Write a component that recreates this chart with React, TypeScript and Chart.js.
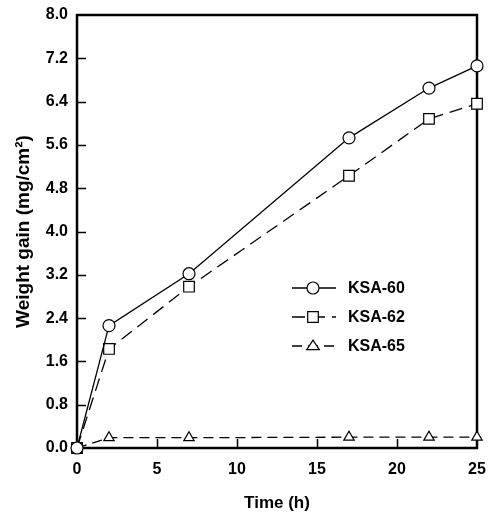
import React, { useEffect, useRef } from "react";
import { Chart, registerables } from "chart.js";

Chart.register(...registerables);

const timeHours = [0, 2, 7, 17, 22, 25];
const ksa60 = [0, 2.26, 3.22, 5.73, 6.65, 7.06];
const ksa62 = [0, 1.83, 2.98, 5.03, 6.08, 6.36];
const ksa65 = [0, 0.19, 0.19, 0.2, 0.2, 0.2];
const seriesNames = ["KSA-60", "KSA-62", "KSA-65"];
const xTickValues = [0, 5, 10, 15, 20, 25];
const yTickValues = [0, 0.8, 1.6, 2.4, 3.2, 4.0, 4.8, 5.6, 6.4, 7.2, 8.0];

const FONT = "'Liberation Sans', Arial, sans-serif";

function drawMarker(ctx: CanvasRenderingContext2D, style: string, x: number, y: number, r: number) {
  ctx.beginPath();
  if (style === "circle") {
    ctx.arc(x, y, r, 0, Math.PI * 2);
  } else if (style === "rect") {
    const s = r / Math.SQRT2;
    ctx.rect(x - s, y - s, 2 * s, 2 * s);
  } else {
    const h = r * 1.6;
    ctx.moveTo(x, y - h * 0.62);
    ctx.lineTo(x + r * 1.05, y + h * 0.38);
    ctx.lineTo(x - r * 1.05, y + h * 0.38);
    ctx.closePath();
  }
  ctx.fillStyle = "#fff";
  ctx.fill();
  ctx.setLineDash([]);
  ctx.stroke();
}

const framePlugin = {
  id: "frameTicks",
  beforeDatasetsDraw(chart: any) {
    const { ctx, chartArea } = chart;
    const { left, right, top, bottom } = chartArea;
    const xs = chart.scales.x;
    const ys = chart.scales.y;
    ctx.save();
    ctx.strokeStyle = "#000";
    ctx.lineWidth = 2.5;
    ctx.strokeRect(left, top, right - left, bottom - top);
    ctx.lineWidth = 1.5;
    ctx.beginPath();
    yTickValues.forEach((v) => {
      if (v <= 0 || v >= 8) return;
      const py = Math.round(ys.getPixelForValue(v)) + 0.5;
      ctx.moveTo(left, py);
      ctx.lineTo(left + 9, py);
    });
    xTickValues.forEach((v) => {
      if (v <= 0 || v >= 25) return;
      const px = Math.round(xs.getPixelForValue(v)) + 0.5;
      ctx.moveTo(px, bottom);
      ctx.lineTo(px, bottom - 9);
    });
    ctx.stroke();
    ctx.restore();
  },
  afterDraw(chart: any) {
    const { ctx } = chart;
    ctx.save();
    const rows = [288, 317, 346];
    chart.data.datasets.forEach((ds: any, i: number) => {
      const y = rows[i];
      ctx.strokeStyle = "#000";
      ctx.lineWidth = 1.3;
      ctx.setLineDash(ds.borderDash || []);
      ctx.beginPath();
      ctx.moveTo(292, y);
      ctx.lineTo(336, y);
      ctx.stroke();
      ctx.lineWidth = 1.2;
      drawMarker(ctx, ds.pointStyle, 313, y, ds.pointRadius);
      ctx.fillStyle = "#000";
      ctx.font = `bold 16px ${FONT}`;
      ctx.textBaseline = "middle";
      ctx.textAlign = "left";
      ctx.fillText(ds.label, 348, y + 1);
    });
    ctx.restore();
  },
};

export default function App() {
  const ref = useRef<HTMLCanvasElement | null>(null);
  useEffect(() => {
    if (!ref.current) return;
    const mk = (vals: number[]) => timeHours.map((t, i) => ({ x: t, y: vals[i] }));
    const common = {
      borderColor: "#000",
      backgroundColor: "#fff",
      pointBorderColor: "#000",
      pointBackgroundColor: "#fff",
      pointBorderWidth: 1.2,
      borderWidth: 1.3,
      clip: false as any,
      tension: 0,
    };
    const chart = new Chart(ref.current, {
      type: "line",
      data: {
        datasets: [
          { ...common, label: seriesNames[0], data: mk(ksa60), pointStyle: "circle", pointRadius: 6 },
          { ...common, label: seriesNames[1], data: mk(ksa62), pointStyle: "rect", pointRadius: 7.5, borderDash: [13, 7] },
          { ...common, label: seriesNames[2], data: mk(ksa65), pointStyle: "triangle", pointRadius: 6, borderDash: [10, 6] },
        ],
      },
      options: {
        responsive: false,
        animation: false,
        layout: { padding: { left: 0, top: 15, right: 14, bottom: 0 } },
        plugins: { legend: { display: false }, tooltip: { enabled: false } },
        scales: {
          x: {
            type: "linear",
            min: 0,
            max: 25,
            afterBuildTicks: (s: any) => {
              s.ticks = xTickValues.map((v) => ({ value: v }));
            },
            afterFit: (s: any) => {
              s.height = 64;
              s.paddingLeft = 0;
              s.paddingRight = 0;
            },
            grid: { display: false, drawTicks: false },
            border: { display: false },
            ticks: {
              color: "#000",
              font: { family: FONT, size: 16, weight: "bold" },
              padding: 12,
              maxRotation: 0,
              callback: (v: any) => String(v),
            },
            title: {
              display: true,
              text: "Time (h)",
              color: "#000",
              font: { family: FONT, size: 17, weight: "bold", lineHeight: 1 },
              padding: { top: 0, bottom: 0 },
            },
          },
          y: {
            type: "linear",
            min: 0,
            max: 8,
            afterBuildTicks: (s: any) => {
              s.ticks = yTickValues.map((v) => ({ value: v }));
            },
            afterFit: (s: any) => {
              s.width = 77;
              s.paddingTop = 0;
              s.paddingBottom = 0;
            },
            grid: { display: false, drawTicks: false },
            border: { display: false },
            ticks: {
              color: "#000",
              font: { family: FONT, size: 16, weight: "bold" },
              padding: 9,
              callback: (v: any) => Number(v).toFixed(1),
            },
            title: {
              display: true,
              text: "Weight gain (mg/cm²)",
              color: "#000",
              font: { family: FONT, size: 19, weight: "bold" },
              padding: { top: 12, bottom: 0 },
            },
          },
        },
      },
      plugins: [framePlugin],
    });
    return () => chart.destroy();
  }, []);
  return (
    <div style={{ position: "absolute", left: 0, top: 0, width: 491, height: 512, background: "#fff" }}>
      <canvas ref={ref} width={491} height={512} />
    </div>
  );
}
